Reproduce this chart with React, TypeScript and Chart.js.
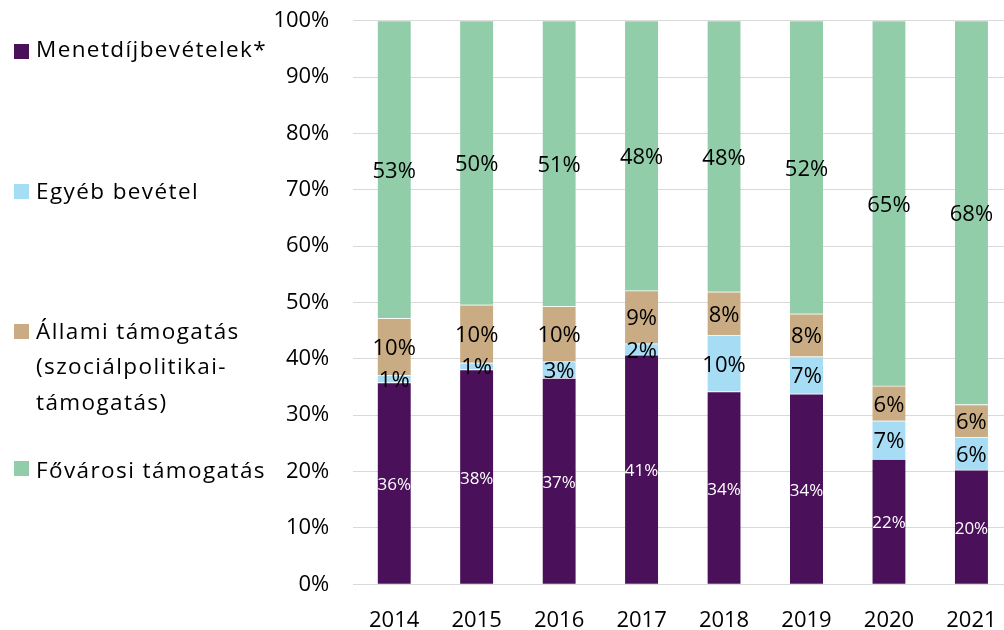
import React, { useEffect, useRef } from "react";
import { Chart, registerables } from "chart.js";

Chart.register(...registerables);

const categories = ["2014", "2015", "2016", "2017", "2018", "2019", "2020", "2021"];
const menetdij = [35.8, 38.1, 36.6, 40.7, 34.2, 33.8, 22.2, 20.3];
const egyeb = [1.3, 1.2, 2.9, 2.0, 10.0, 6.6, 6.8, 5.8];
const allami = [10.1, 10.3, 9.8, 9.4, 7.7, 7.6, 6.2, 5.8];
const fovarosi = [52.8, 50.4, 50.7, 47.9, 48.1, 52.0, 64.8, 68.1];

const seriesNames = ["Menetdíjbevételek*", "Egyéb bevétel", "Állami támogatás (szociálpolitikai-támogatás)", "Fővárosi támogatás"];
const legendLines = [
  ["Menetdíjbevételek*"],
  ["Egyéb bevétel"],
  ["Állami támogatás", "(szociálpolitikai-", "támogatás)"],
  ["Fővárosi támogatás"],
];
const colors = ["#4B105A", "#A6DDF5", "#C9AC84", "#92CDAA"];
const legendTops = [30.5, 172.5, 312.5, 451.5];
const markerTops = [44, 184, 324, 461];

const FONT = "'Open Sans', 'Noto Sans', sans-serif";

const labelPlugin = {
  id: "segLabels",
  afterDatasetsDraw(chart: any) {
    const ctx = chart.ctx;
    ctx.save();
    ctx.textAlign = "center";
    ctx.textBaseline = "middle";
    chart.data.datasets.forEach((ds: any, di: number) => {
      const meta = chart.getDatasetMeta(di);
      meta.data.forEach((el: any, i: number) => {
        const v = ds.data[i].y;
        const cy = (el.y + el.base) / 2;
        if (di === 0) {
          ctx.fillStyle = "#ffffff";
          ctx.font = `17px ${FONT}`;
        } else {
          ctx.fillStyle = "#000000";
          ctx.font = `22px ${FONT}`;
        }
        ctx.fillText(Math.round(v) + "%", el.x, cy + 2);
      });
    });
    ctx.restore();
  },
};

export default function App() {
  const ref = useRef<HTMLCanvasElement | null>(null);

  useEffect(() => {
    if (!ref.current) return;
    const series = [menetdij, egyeb, allami, fovarosi];
    const chart = new Chart(ref.current, {
      type: "bar",
      data: {
        datasets: series.map((arr, si) => ({
          label: seriesNames[si],
          data: arr.map((v, i) => ({ x: i, y: v })),
          backgroundColor: colors[si],
          borderColor: "rgba(255,255,255,0.7)",
          borderWidth: { top: 1, bottom: 0, left: 0, right: 0 },
          borderSkipped: false,
          barThickness: 33,
        })),
      },
      options: {
        animation: false,
        responsive: false,
        maintainAspectRatio: false,
        layout: { padding: { top: 20.7, left: 0, right: 0, bottom: 0 } },
        plugins: {
          legend: { display: false },
          tooltip: { enabled: false },
        },
        scales: {
          x: {
            type: "linear",
            stacked: true,
            offset: false,
            min: -0.496,
            max: 7.395,
            grid: { display: false, offset: false },
            border: { display: false },
            ticks: {
              stepSize: 1,
              includeBounds: false,
              autoSkip: false,
              maxRotation: 0,
              padding: 15,
              color: "#000",
              font: { family: FONT, size: 22 },
              callback: (v: any) => (Number.isInteger(v) && categories[v] ? categories[v] : ""),
            },
            afterFit: (s: any) => {
              s.height = 45.7;
              s.paddingLeft = 0;
              s.paddingRight = 0;
            },
          },
          y: {
            stacked: true,
            min: 0,
            max: 100,
            grid: { color: "#d9d9d9", lineWidth: 1, drawTicks: false },
            border: { display: false },
            ticks: {
              stepSize: 10,
              padding: 24,
              color: "#000",
              font: { family: FONT, size: 22 },
              callback: (v: any) => v + "%",
            },
            afterFit: (s: any) => {
              s.width = 353.3;
              s.paddingTop = 0;
              s.paddingBottom = 0;
            },
          },
        },
      },
      plugins: [labelPlugin],
    });
    return () => chart.destroy();
  }, []);

  return (
    <div style={{ position: "absolute", left: 0, top: 0, width: 1004, height: 630, overflow: "hidden", background: "#fff" }}>
      <canvas ref={ref} width={1004} height={630} style={{ position: "absolute", left: 0, top: 0, width: 1004, height: 630 }} />
      {legendLines.map((lines, i) => (
        <React.Fragment key={i}>
          <div style={{ position: "absolute", left: 14, top: markerTops[i], width: 15, height: 15, background: colors[i] }} />
          <div style={{ position: "absolute", left: 0, top: legendTops[i], fontFamily: FONT, fontSize: 22.5, letterSpacing: "1.4px", lineHeight: "35.5px", color: "#000" }}>
            {lines.map((t, j) => (
              <div key={j} style={{ paddingLeft: 36, whiteSpace: "nowrap" }}>{t}</div>
            ))}
          </div>
        </React.Fragment>
      ))}
    </div>
  );
}
